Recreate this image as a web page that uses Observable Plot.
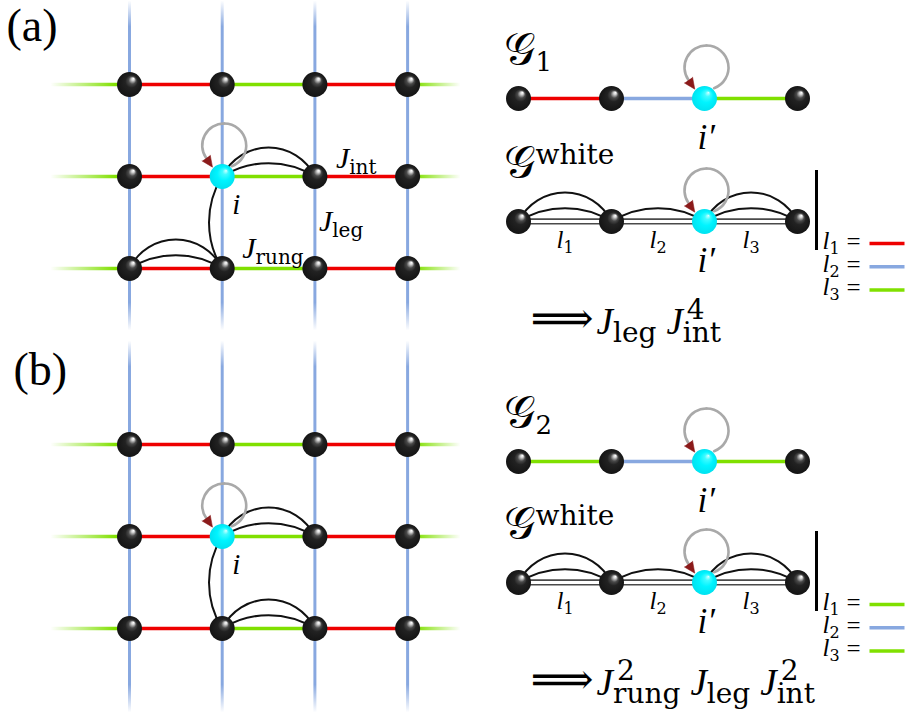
<!DOCTYPE html>
<html><head><meta charset="utf-8">
<script src="https://cdn.jsdelivr.net/npm/d3@7"></script>
<script src="https://cdn.jsdelivr.net/npm/@observablehq/plot@0.6"></script>
<style>body{margin:0;background:#fff}</style>
</head><body><div id="chart"></div>
<script>
// ---------------- DATA ----------------
const panels = ["a", "b"];
const panelTags = ["(a)", "(b)"];
const latticeCols = [0, 1, 2, 3];
const latticeRows = [0, 1, 2];
// coupling of each horizontal bond in a row: bond k joins column k-1 and column k (k = 0 and 4 are open ends)
const rowBondCouplings = ["rung", "int", "rung", "int", "rung"];
const legCoupling = "leg";
const latticeFocus = [1, 1];
// arcs of the lattice (from site -> to site, number of parallel arcs)
const latticeArcsA = [
  {from: [1, 1], to: [2, 1], count: 2},
  {from: [1, 2], to: [1, 1], count: 1},
  {from: [0, 2], to: [1, 2], count: 2}
];
const latticeArcsB = [
  {from: [1, 1], to: [2, 1], count: 2},
  {from: [1, 2], to: [1, 1], count: 1},
  {from: [1, 2], to: [2, 2], count: 2}
];
const latticeLabelsA = [
  {base: "J", sub: "int", site: [2, 1], slot: "rowRight"},
  {base: "J", sub: "leg", site: [2, 1], slot: "legBelow"},
  {base: "J", sub: "rung", site: [1, 2], slot: "rowAbove"}
];
const chainSites = [0, 1, 2, 3];
const chainFocus = 2;
const chainCouplingsA = ["int", "leg", "rung"];
const chainCouplingsB = ["rung", "leg", "rung"];
const whiteArcs = [
  {from: 0, to: 1, count: 2},
  {from: 1, to: 2, count: 1},
  {from: 2, to: 3, count: 2}
];
const graphIndex = ["1", "2"];
const bondNames = ["1", "2", "3"];
const formulaA = [{base: "J", sub: "leg"}, {base: "J", sub: "int", sup: "4"}];
const formulaB = [{base: "J", sub: "rung", sup: "2"}, {base: "J", sub: "leg"}, {base: "J", sub: "int", sup: "2"}];

// ---------------- STYLE / LAYOUT ----------------
const couplingTypes = ["int", "leg", "rung"];
const couplingPalette = ["#ee0000", "#88a8e0", "#80e000"];
const colorOf = c => couplingPalette[couplingTypes.indexOf(c)];
const W = 907, H = 720;
const L = {
  a: {y0: 84, top: 0, bottom: 330, tagX: 6, tagY: 40, g: 98, gw: 221, fy: 333,
      arcs: latticeArcsA, chain: chainCouplingsA, labels: latticeLabelsA},
  b: {y0: 444, top: 340, bottom: 712, tagX: 13, tagY: 384, g: 461, gw: 582, fy: 694,
      arcs: latticeArcsB, chain: chainCouplingsB, labels: []}
};
const LX0 = 129, LDX = 92.7, LDY = 92, STUB_L = 50, STUB_R = 460;
const CX0 = 518, CDX = 93;
const X = c => LX0 + LDX * c;
const Y = (p, r) => L[p].y0 + LDY * r;
const CX = k => CX0 + CDX * k;
const SERIF = "'Liberation Serif'";
const WIDE = "'DejaVu Serif'";

// ---------------- GEOMETRY FROM DATA ----------------
const hSolid = [], vSolid = [], stubs = [], gradients = [];
gradients.push({id: "hl", x1: STUB_L, x2: STUB_L + 65, y1: 0, y2: 0, c: rowBondCouplings[0], o1: 0, o2: 1});
gradients.push({id: "hr", x1: STUB_R - 45, x2: STUB_R, y1: 0, y2: 0, c: rowBondCouplings[4], o1: 1, o2: 0});
for (const p of panels) {
  const P = L[p];
  gradients.push({id: "vt" + p, x1: 0, x2: 0, y1: P.top, y2: P.top + 26, c: legCoupling, o1: 0, o2: 1});
  gradients.push({id: "vb" + p, x1: 0, x2: 0, y1: P.bottom - 28, y2: P.bottom, c: legCoupling, o1: 1, o2: 0});
  for (const r of latticeRows) {
    rowBondCouplings.forEach((c, k) => {
      const a = k - 1, b = k;
      if (a < 0) stubs.push({x1: STUB_L, x2: X(b), y1: Y(p, r), y2: Y(p, r), g: "hl"});
      else if (b >= latticeCols.length) stubs.push({x1: X(a), x2: STUB_R, y1: Y(p, r), y2: Y(p, r), g: "hr"});
      else hSolid.push({x1: X(a), x2: X(b), y1: Y(p, r), y2: Y(p, r), c});
    });
  }
  for (const c of latticeCols) {
    stubs.push({x1: X(c), x2: X(c), y1: P.top, y2: Y(p, 0), g: "vt" + p});
    stubs.push({x1: X(c), x2: X(c), y1: Y(p, latticeRows.length - 1), y2: P.bottom, g: "vb" + p});
    for (let r = 0; r < latticeRows.length - 1; r++)
      vSolid.push({x1: X(c), x2: X(c), y1: Y(p, r), y2: Y(p, r + 1), c: legCoupling});
  }
}

// nodes
const blackNodes = [], cyanNodes = [];
for (const p of panels) {
  for (const r of latticeRows) for (const c of latticeCols) {
    const d = {x: X(c), y: Y(p, r)};
    (c === latticeFocus[0] && r === latticeFocus[1] ? cyanNodes : blackNodes).push(d);
  }
  for (const gy of [L[p].g, L[p].gw]) for (const k of chainSites) {
    const d = {x: CX(k), y: gy};
    (k === chainFocus ? cyanNodes : blackNodes).push(d);
  }
}

// chain bonds
const chainBonds = [], whiteBonds = [], legendLines = [];
for (const p of panels) {
  const P = L[p];
  P.chain.forEach((c, k) => {
    chainBonds.push({x1: CX(k), x2: CX(k + 1), y: P.g, c});
    whiteBonds.push({x1: CX(k), x2: CX(k + 1), y: P.gw});
    legendLines.push({x1: 869, x2: 904, y: P.gw + 22 + 23.3 * k, c, k});
  });
}

// arcs
const arcs = [];
for (const p of panels) {
  for (const e of L[p].arcs) for (let k = 0; k < e.count; k++)
    arcs.push({x1: X(e.from[0]), y1: Y(p, e.from[1]), x2: X(e.to[0]), y2: Y(p, e.to[1]), k});
  for (const e of whiteArcs) for (let k = 0; k < e.count; k++)
    arcs.push({x1: CX(e.from), y1: L[p].gw, x2: CX(e.to), y2: L[p].gw, k});
}

// self loops on every focus node
const LOOP = {cx: 2, cy: -31, r: 22, a0: 70, a1: 145};
const rad = Math.PI / 180;
const loops = cyanNodes.map(d => {
  const cx = d.x + LOOP.cx, cy = d.y + LOOP.cy;
  return {
    sx: cx + LOOP.r * Math.cos(LOOP.a0 * rad), sy: cy + LOOP.r * Math.sin(LOOP.a0 * rad),
    tx: cx, ty: cy - LOOP.r,
    ex: cx + LOOP.r * Math.cos(LOOP.a1 * rad), ey: cy + LOOP.r * Math.sin(LOOP.a1 * rad)
  };
});

// ---------------- TEXT LAYOUT ----------------
const ctx = document.createElement("canvas").getContext("2d");
const measure = (t, s, it, font = SERIF) => { ctx.font = `${it ? "italic " : ""}${s}px ${font}`; return ctx.measureText(t).width; };
const texts = [];
const put = (t, x, y, size, italic, font = SERIF) => { texts.push({t, x, y, size, italic, font}); return x + measure(t, size, italic, font); };
function scripted(f, x, y, S) {
  const xe = put(f.base, x, y, S.base, S.italic !== false);
  const sf = S.scriptFont || WIDE;
  let end = xe;
  if (f.sub) end = Math.max(end, put(f.sub, xe + S.subK, y + S.subDy, S.script, false, sf));
  if (f.sup) end = Math.max(end, put(f.sup, xe + S.supK, y + S.supDy, S.script, false, sf));
  return end;
}
const labelSlots = {rowRight: [21, -9], legBelow: [4, 54], rowAbove: [20, -11]};
const SJ = {base: 30, script: 20, subK: 0, subDy: 6, supK: 2, supDy: -12};
const SF = {base: 37, script: 28, subK: 0, subDy: 8, supK: 4, supDy: -15};
panels.forEach((p, i) => {
  const P = L[p];
  put(panelTags[i], P.tagX, P.tagY, 46, false);
  put("i", X(latticeFocus[0]) + 10, Y(p, latticeFocus[1]) + 37, 29, true);
  for (const lb of P.labels) {
    const [ox, oy] = labelSlots[lb.slot];
    scripted(lb, X(lb.site[0]) + ox, Y(p, lb.site[1]) + oy, SJ);
  }
  // graph names
  scripted({base: "𝒢", sub: graphIndex[i]}, 503, P.g - 35, {base: 44, italic: false, script: 26, subK: 1, subDy: 7});
  scripted({base: "𝒢", sup: "white"}, 503, P.gw - 45, {base: 44, italic: false, script: 28, supK: 1, supDy: -13});
  // i' labels
  for (const gy of [P.g, P.gw]) put("i′", CX(chainFocus) - 7, gy + 50, 35, true);
  // bond labels l_k
  P.chain.forEach((c, k) => {
    const S = {base: 25, script: 16, subK: 0, subDy: 5};
    const wl = measure("l", S.base, true) + measure(bondNames[k], S.script, false, WIDE);
    scripted({base: "l", sub: bondNames[k]}, (CX(k) + CX(k + 1)) / 2 - wl / 2, P.gw + 26, S);
    // legend entry
    const ly = P.gw + 22 + 23.3 * k + 5;
    scripted({base: "l", sub: bondNames[k]}, 822, ly, S);
    put("=", 846, ly + 1, 25, false);
  });
  // formula
  let x = put("⟹", 530, P.fy - 1, 44, false, WIDE) + 3;
  const F = p === "a" ? formulaA : formulaB;
  for (const f of F) x = scripted(f, x, P.fy, SF) + 10;
});

// ---------------- PLOT ----------------
const textGroups = d3.groups(texts, d => d.font + "|" + d.italic);
const svg = Plot.plot({
  width: W, height: H, margin: 0,
  x: {domain: [0, W], range: [0, W], axis: null},
  y: {domain: [0, H], range: [0, H], axis: null},
  color: {domain: couplingTypes, range: couplingPalette},
  style: {background: "white"},
  marks: [
    Plot.link(vSolid, {x1: "x1", x2: "x2", y1: "y1", y2: "y2", stroke: "c", strokeWidth: 3}),
    ...gradients.map(g => Plot.link(stubs.filter(s => s.g === g.id),
      {x1: "x1", x2: "x2", y1: "y1", y2: "y2", stroke: `url(#${g.id})`, strokeWidth: g.id.startsWith("h") ? 3.3 : 3})),
    Plot.link(hSolid, {x1: "x1", x2: "x2", y1: "y1", y2: "y2", stroke: "c", strokeWidth: 3.3}),
    Plot.link(chainBonds, {x1: "x1", x2: "x2", y1: "y", y2: "y", stroke: "c", strokeWidth: 3.3}),
    Plot.link(whiteBonds, {x1: "x1", x2: "x2", y1: "y", y2: "y", stroke: "#4a4a4a", strokeWidth: 1.6, dy: -2.4}),
    Plot.link(whiteBonds, {x1: "x1", x2: "x2", y1: "y", y2: "y", stroke: "#4a4a4a", strokeWidth: 1.6, dy: 2.2}),
    Plot.arrow(arcs.filter(d => d.k === 0), {x1: "x1", y1: "y1", x2: "x2", y2: "y2", bend: 32, headLength: 0, stroke: "#111", strokeWidth: 2}),
    Plot.arrow(arcs.filter(d => d.k === 1), {x1: "x1", y1: "y1", x2: "x2", y2: "y2", bend: 64, headLength: 0, stroke: "#111", strokeWidth: 2}),
    Plot.arrow(loops, {x1: "sx", y1: "sy", x2: "tx", y2: "ty", bend: -80, headLength: 0, stroke: "#a9a9a9", strokeWidth: 2.6}),
    Plot.arrow(loops, {x1: "tx", y1: "ty", x2: "ex", y2: "ey", bend: -62.5, headLength: 0, stroke: "#a9a9a9", strokeWidth: 2.6}),
    Plot.vector(loops, {x: "ex", y: "ey", rotate: 145, length: 11, r: 5, shape: "spike", anchor: "start", fill: "#8b1a1a", stroke: "#8b1a1a", strokeWidth: 0.5}),
    Plot.dot(blackNodes, {x: "x", y: "y", r: 12.5, fill: "url(#ballBlack)", stroke: "none"}),
    Plot.dot(cyanNodes, {x: "x", y: "y", r: 12.5, fill: "url(#ballCyan)", stroke: "none"}),
    Plot.ruleX(panels, {x: 816, y1: p => L[p].gw - 51, y2: p => L[p].gw + 29, stroke: "black", strokeWidth: 3}),
    Plot.link(legendLines, {x1: "x1", x2: "x2", y1: "y", y2: "y", stroke: "c", strokeWidth: 3.5}),
    ...textGroups.map(([key, rows]) => Plot.text(rows, {
      x: "x", y: "y", text: "t", fontSize: d => d.size, textAnchor: "start", lineAnchor: "bottom",
      fontFamily: rows[0].font, fontStyle: rows[0].italic ? "italic" : "normal", fill: "black"
    }))
  ]
});

// make sure every text uses its intended typeface (inline style wins over inherited styles)
d3.select(svg).selectAll("g[aria-label='text']").each(function () {
  const g = d3.select(this);
  const fam = this.getAttribute("font-family") || SERIF;
  const sty = this.getAttribute("font-style") || "normal";
  g.style("font-family", fam).style("font-style", sty);
  g.selectAll("text").style("font-family", fam).style("font-style", sty);
});

const defs = d3.select(svg).insert("defs", ":first-child");
for (const g of gradients) {
  const lg = defs.append("linearGradient").attr("id", g.id).attr("gradientUnits", "userSpaceOnUse")
    .attr("x1", g.x1).attr("x2", g.x2).attr("y1", g.y1).attr("y2", g.y2);
  lg.append("stop").attr("offset", 0).attr("stop-color", colorOf(g.c)).attr("stop-opacity", g.o1);
  lg.append("stop").attr("offset", 1).attr("stop-color", colorOf(g.c)).attr("stop-opacity", g.o2);
}
function ball(id, stops) {
  const rg = defs.append("radialGradient").attr("id", id).attr("cx", 0.5).attr("cy", 0.5).attr("r", 0.5).attr("fx", 0.66).attr("fy", 0.26);
  for (const [o, c] of stops) rg.append("stop").attr("offset", o).attr("stop-color", c);
}
ball("ballBlack", [[0, "#ffffff"], [0.1, "#dcdcdc"], [0.3, "#4a4a4a"], [0.5, "#222"], [1, "#141414"]]);
ball("ballCyan", [[0, "#d8ffff"], [0.22, "#40fbff"], [0.55, "#00f4ff"], [1, "#00e2f0"]]);

document.getElementById("chart").appendChild(svg);
</script>
</body></html>
